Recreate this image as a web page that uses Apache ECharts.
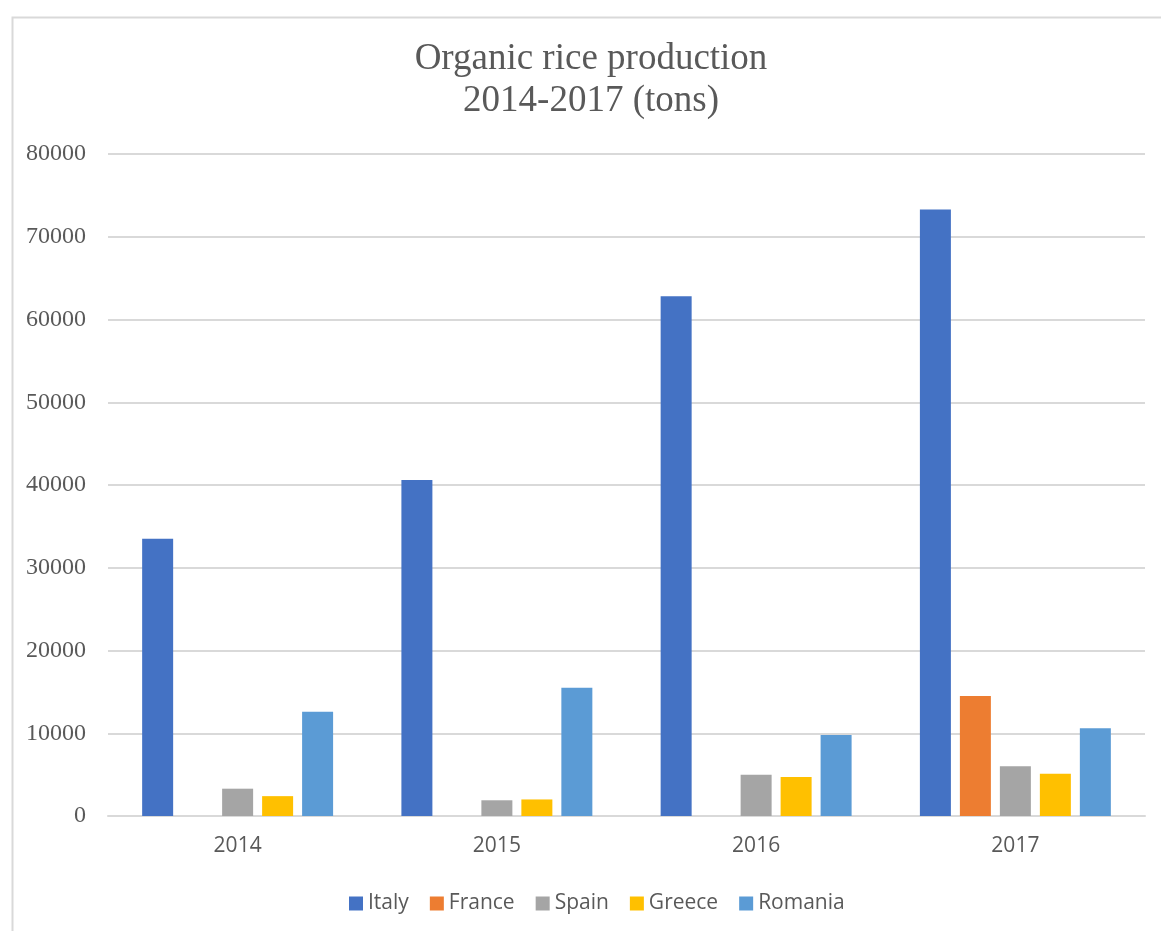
<!DOCTYPE html>
<html>
<head>
<meta charset="utf-8">
<title>Organic rice production 2014-2017</title>
<script src="https://cdn.jsdelivr.net/npm/echarts@6/dist/echarts.min.js"></script>
<style>
  html, body { margin: 0; padding: 0; background: #ffffff; }
  #chart { width: 1161px; height: 931px; }
</style>
</head>
<body>
<div id="chart"></div>
<script>
// Years on the category axis
const years = ['2014', '2015', '2016', '2017'];

// Organic rice production per country, in tons
const italy   = [33500, 40600, 62800, 73300];
const france  = [0, 0, 0, 14500];
const spain   = [3300, 1900, 5000, 6000];
const greece  = [2400, 2000, 4700, 5100];
const romania = [12600, 15500, 9800, 10600];

// Value axis range
const yMin = 0;
const yMax = 80000;
const yStep = 10000;

const countries = [
  { name: 'Italy',   data: italy,   color: '#4472C4' },
  { name: 'France',  data: france,  color: '#ED7D31' },
  { name: 'Spain',   data: spain,   color: '#A5A5A5' },
  { name: 'Greece',  data: greece,  color: '#FFC000' },
  { name: 'Romania', data: romania, color: '#5B9BD5' }
];

const textGray = '#595959';
const lineGray = '#d9d9d9';

const chart = echarts.init(document.getElementById('chart'), null, { renderer: 'canvas' });

chart.setOption({
  backgroundColor: '#ffffff',
  animation: false,
  color: countries.map(c => c.color),
  title: {
    text: 'Organic rice production\n2014-2017 (tons)',
    left: 591,
    top: 38,
    textAlign: 'center',
    padding: 0,
    textStyle: {
      fontFamily: '"Liberation Serif", "Times New Roman", serif',
      fontSize: 37,
      fontWeight: 'normal',
      color: textGray,
      lineHeight: 42
    }
  },
  legend: {
    left: 344,
    top: 888,
    itemWidth: 14,
    itemHeight: 14,
    itemGap: 21,
    icon: 'rect',
    textStyle: {
      fontFamily: '"Open Sans", "Noto Sans", sans-serif',
      fontSize: 21,
      color: textGray
    },
    data: countries.map(c => c.name)
  },
  grid: {
    left: 108,
    right: 16,
    top: 154,
    bottom: 115,
    containLabel: false
  },
  xAxis: {
    type: 'category',
    data: years,
    axisLine: { show: true, lineStyle: { color: lineGray, width: 2 } },
    axisTick: { show: false },
    axisLabel: {
      margin: 20,
      fontFamily: '"Open Sans", "Noto Sans", sans-serif',
      fontSize: 21,
      color: textGray
    }
  },
  yAxis: {
    type: 'value',
    min: yMin,
    max: yMax,
    interval: yStep,
    axisLine: { show: false },
    axisTick: { show: false },
    splitLine: { lineStyle: { color: lineGray, width: 2 } },
    axisLabel: {
      margin: 22,
      formatter: v => String(v),
      fontFamily: '"Liberation Serif", "Times New Roman", serif',
      fontSize: 24,
      color: textGray
    }
  },
  graphic: [
    {
      // thin frame around the chart area
      type: 'rect',
      left: 10,
      top: 15,
      shape: { width: 1300, height: 1000 },
      style: { fill: 'none', stroke: lineGray, lineWidth: 2 },
      silent: true,
      z: -1
    }
  ],
  series: countries.map(c => ({
    name: c.name,
    type: 'bar',
    data: c.data,
    barWidth: 31,
    barGap: '29%',
    itemStyle: { color: c.color }
  }))
});
</script>
</body>
</html>
